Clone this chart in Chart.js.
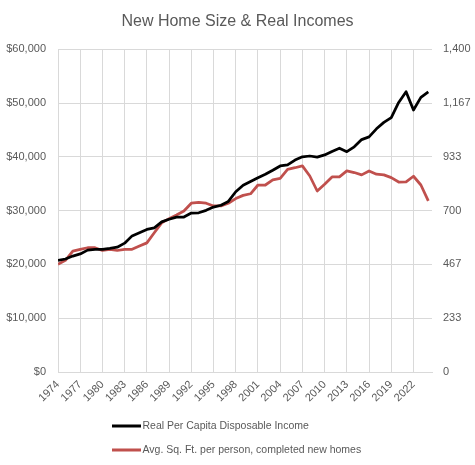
<!DOCTYPE html>
<html>
<head>
<meta charset="utf-8">
<script src="https://cdn.jsdelivr.net/npm/chart.js@4.4.1/dist/chart.umd.min.js"></script>
<style>
  html, body { margin: 0; padding: 0; background: #fff; }
  #wrap { width: 475px; height: 465px; position: relative; }
</style>
</head>
<body>
<div id="wrap"><canvas id="homeChart"></canvas></div>
<script>
const years = [
    1974, 1975, 1976, 1977, 1978, 1979, 1980, 1981, 1982, 1983,
    1984, 1985, 1986, 1987, 1988, 1989, 1990, 1991, 1992, 1993,
    1994, 1995, 1996, 1997, 1998, 1999, 2000, 2001, 2002, 2003,
    2004, 2005, 2006, 2007, 2008, 2009, 2010, 2011, 2012, 2013,
    2014, 2015, 2016, 2017, 2018, 2019, 2020, 2021, 2022, 2023, 2024
];

// real per capita disposable income ($)
const income = [
    20750, 21000, 21550, 21950, 22650, 22800, 22800, 22980, 23200, 23950,
    25300, 25900, 26500, 26800, 27900, 28400, 28800, 28800, 29550, 29600,
    30050, 30650, 31000, 31700, 33500, 34700, 35400, 36100, 36750, 37500,
    38300, 38500, 39400, 40000, 40150, 39950, 40350, 41000, 41600, 40950,
    41850, 43200, 43700, 45200, 46400, 47300, 50100, 52100, 48700, 51050, 52050
];

// avg sq. ft. per person, completed new homes
const sqftPerPerson = [
    467, 484, 524, 532, 539, 539, 527, 532, 527, 532,
    532, 546, 560, 604, 647, 665, 681, 698, 732, 736,
    732, 720, 720, 732, 752, 766, 773, 811, 811, 833,
    840, 879, 886, 894, 850, 785, 814, 846, 846, 872,
    865, 855, 872, 858, 855, 843, 824, 825, 849, 811, 742
];

const incomeTicks = [0, 10000, 20000, 30000, 40000, 50000, 60000];
const sqftMax = 1400;

Chart.defaults.font.family = "'Liberation Sans', Arial, sans-serif";
Chart.defaults.font.size = 11;
Chart.defaults.color = '#595959';

const gridColor = '#d9d9d9';

// two stacked legend rows, left aligned like the Excel original
const stackedLegend = {
    id: 'stackedLegend',
    afterDraw(chart) {
        const ctx = chart.ctx;
        const rows = [chart.height - 39, chart.height - 15];
        ctx.save();
        ctx.font = "10.5px 'Liberation Sans', Arial, sans-serif";
        ctx.textBaseline = 'middle';
        chart.data.datasets.forEach((ds, i) => {
            const y = rows[i];
            ctx.fillStyle = ds.borderColor;
            ctx.fillRect(112, y - 1.5, 29, 3);
            ctx.fillStyle = '#595959';
            ctx.fillText(ds.label, 142.5, y);
        });
        ctx.restore();
    }
};

new Chart(document.getElementById('homeChart'), {
    type: 'line',
    data: {
        labels: years,
        datasets: [
            {
                label: 'Real Per Capita Disposable Income',
                data: income,
                yAxisID: 'y',
                borderColor: '#000000',
                borderWidth: 2.75,
                pointRadius: 0,
                tension: 0,
                borderJoinStyle: 'round'
            },
            {
                label: 'Avg. Sq. Ft. per person, completed new homes',
                data: sqftPerPerson,
                yAxisID: 'y1',
                borderColor: '#c0504d',
                borderWidth: 2.75,
                pointRadius: 0,
                tension: 0,
                borderJoinStyle: 'round'
            }
        ]
    },
    options: {
        responsive: true,
        maintainAspectRatio: false,
        animation: false,
        layout: { padding: { bottom: 53 } },
        plugins: {
            legend: { display: false },
            tooltip: { enabled: false },
            title: {
                display: true,
                text: 'New Home Size & Real Incomes',
                color: '#595959',
                font: { size: 16, weight: 'normal' },
                padding: { top: 12, bottom: 18 }
            }
        },
        scales: {
            x: {
                type: 'linear',
                min: years[0],
                max: years[years.length - 1] + 0.5,
                afterFit: s => { s.height = 40; },
                grid: { color: gridColor, drawTicks: false },
                border: { color: gridColor },
                ticks: {
                    stepSize: 3,
                    includeBounds: false,
                    maxRotation: 45,
                    minRotation: 45,
                    padding: 6,
                    autoSkip: false,
                    callback: v => String(v)
                }
            },
            y: {
                position: 'left',
                min: incomeTicks[0],
                max: incomeTicks[incomeTicks.length - 1],
                afterFit: s => { s.width = 58; },
                grid: { color: gridColor, drawTicks: false },
                border: { display: false },
                ticks: {
                    stepSize: 10000,
                    padding: 12,
                    callback: v => '$' + v.toLocaleString('en-US')
                }
            },
            y1: {
                position: 'right',
                min: 0,
                max: sqftMax,
                afterFit: s => { s.width = 43; },
                grid: { drawOnChartArea: false, drawTicks: false },
                border: { display: false },
                ticks: {
                    stepSize: sqftMax / 6,
                    padding: 11,
                    callback: v => Math.round(v).toLocaleString('en-US')
                }
            }
        }
    },
    plugins: [stackedLegend]
});
</script>
</body>
</html>
